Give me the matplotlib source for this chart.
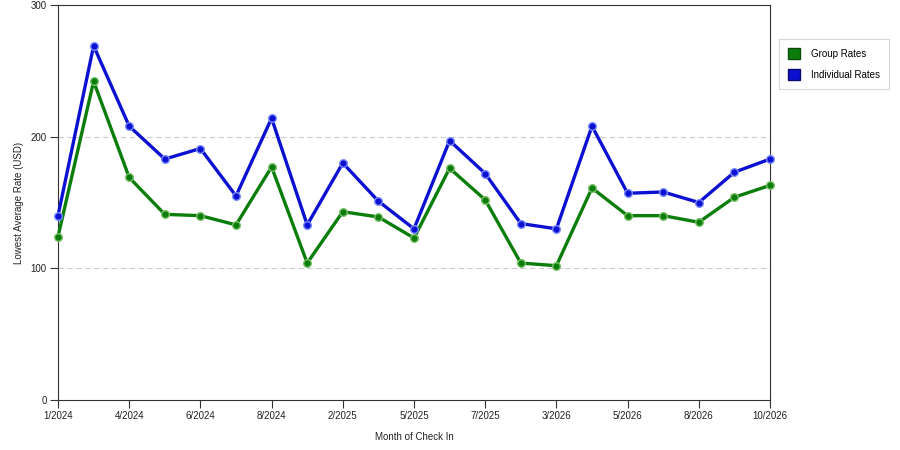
import numpy as np
import matplotlib
matplotlib.use("Agg")
import matplotlib.pyplot as plt
from matplotlib.patches import Patch

# months of check in (every other one is labelled on the axis)
months = ["1/2024", "2/2024", "4/2024", "5/2024", "6/2024", "7/2024", "8/2024",
          "9/2024", "2/2025", "4/2025", "5/2025", "6/2025", "7/2025", "8/2025",
          "3/2026", "4/2026", "5/2026", "6/2026", "8/2026", "9/2026", "10/2026"]
tick_labels = ["1/2024", "4/2024", "6/2024", "8/2024", "2/2025", "5/2025",
               "7/2025", "3/2026", "5/2026", "8/2026", "10/2026"]

group_rates = [124, 242, 169, 141, 140, 133, 177, 104, 143, 139, 123,
               176, 152, 104, 102, 161, 140, 140, 135, 154, 163]
individual_rates = [140, 269, 208, 183, 191, 155, 214, 133, 180, 151, 130,
                    197, 172, 134, 130, 208, 157, 158, 150, 173, 183]

plt.rcParams['font.family'] = ['Liberation Sans', 'DejaVu Sans']

fig = plt.figure(figsize=(9, 4.5), dpi=100)
ax = fig.add_axes([58/900, 1 - 400/450, 712/900, 395/450])

x = np.arange(len(months))
green = '#0b7d0b'
blue = '#0c10d0'

ax.plot(x, group_rates, color=green, lw=2.4, marker='o', ms=5.5,
        mfc=green, mec='#7cc06a', mew=1.0, zorder=3, clip_on=False)
ax.plot(x, individual_rates, color=blue, lw=2.4, marker='o', ms=5.5,
        mfc=blue, mec='#7a8cff', mew=1.0, zorder=4, clip_on=False)

ax.set_xlim(0, len(months) - 1)
ax.set_ylim(0, 300)
ax.set_xticks(x[::2])
ax.set_xticklabels(tick_labels)
ax.set_yticks([0, 100, 200, 300])

for v in [100, 200]:
    ax.axhline(v, color='#cccccc', lw=0.8, ls=(0, (5, 3)), zorder=1)

ax.tick_params(axis='both', direction='out', length=6, width=0.8,
               labelsize=7, color='#333333', labelcolor='#222222', pad=2)
for s in ax.spines.values():
    s.set_color('#333333')
    s.set_linewidth(0.8)

ax.set_xlabel('Month of Check In', fontsize=7, color='#222222', labelpad=8)
ax.set_ylabel('Lowest Average Rate (USD)', fontsize=7, color='#222222', labelpad=5)

handles = [Patch(facecolor=green, edgecolor='#0a4a0a', label='Group Rates'),
           Patch(facecolor=blue, edgecolor='#0a0a6a', label='Individual Rates')]
leg = fig.legend(handles=handles, loc='upper left',
                 bbox_to_anchor=(779/900, 1 - 39/450), fontsize=7,
                 frameon=True, fancybox=False, handlelength=1.3, handleheight=1.4,
                 borderpad=0.9, labelspacing=1.0, handletextpad=1.1,
                 borderaxespad=0)
leg.get_frame().set_edgecolor('#cccccc')
leg.get_frame().set_linewidth(0.8)

fig.savefig('out.png', dpi=100)
